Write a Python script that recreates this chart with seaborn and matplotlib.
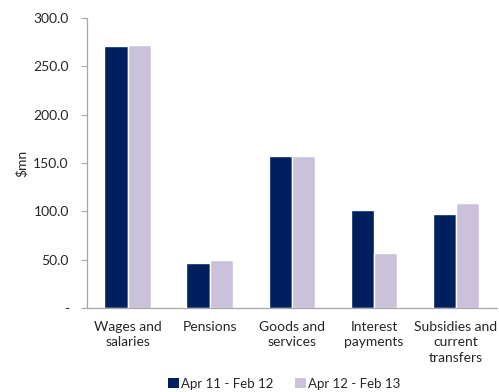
import matplotlib
matplotlib.use("Agg")
import matplotlib.pyplot as plt
import seaborn as sns
import pandas as pd
import numpy as np
from matplotlib.patches import Patch

categories = ["Wages and\nsalaries", "Pensions", "Goods and\nservices",
              "Interest\npayments", "Subsidies and\ncurrent\ntransfers"]
series_names = ["Apr 11 - Feb 12", "Apr 12 - Feb 13"]
values_2011 = [271.3, 46.9, 157.0, 101.4, 97.2]
values_2012 = [272.5, 49.7, 157.8, 57.2, 108.6]
y_ticks = [0, 50, 100, 150, 200, 250, 300]
y_tick_labels = ["-", "50.0", "100.0", "150.0", "200.0", "250.0", "300.0"]

colors = ["#001F5F", "#CCC1DA"]

df = pd.DataFrame({
    "category": categories * 2,
    "series": [series_names[0]] * 5 + [series_names[1]] * 5,
    "value": values_2011 + values_2012,
})

sns.set_style("white")
plt.rcParams["font.family"] = ["Lato", "DejaVu Sans"]

fig = plt.figure(figsize=(4.99, 3.92), dpi=100)
ax = fig.add_axes([0.174, 0.214, 0.822, 0.74])

sns.barplot(data=df, x="category", y="value", hue="series", palette=colors,
            order=categories, hue_order=series_names, width=0.57,
            saturation=1, ax=ax, legend=False, errorbar=None)

ax.set_ylim(0, 300)
ax.set_xlim(-0.5, len(categories) - 0.5)
ax.set_yticks(y_ticks)
ax.set_yticklabels(y_tick_labels, fontsize=10)
ax.set_ylabel("$mn", fontsize=10, labelpad=4)
ax.set_xlabel("")
ax.set_xticks(range(len(categories)))
ax.set_xticklabels(categories, fontsize=10, linespacing=1.35)
ax.tick_params(axis="x", which="major", length=0, pad=9)
ax.set_xticks(np.arange(-0.5, len(categories)), minor=True)
ax.tick_params(axis="x", which="minor", length=4, color="#A6A6A6", width=0.8)
ax.tick_params(axis="y", length=4, color="#A6A6A6", width=0.8, left=True, pad=9)

for s in ["top", "right"]:
    ax.spines[s].set_visible(False)
for s in ["left", "bottom"]:
    ax.spines[s].set_color("#A6A6A6")
    ax.spines[s].set_linewidth(0.9)

handles = [Patch(facecolor=c, edgecolor="none") for c in colors]
fig.legend(handles, series_names, loc="lower center", ncol=2,
           bbox_to_anchor=(0.57, -0.025), frameon=False, fontsize=9.5,
           handlelength=0.8, handleheight=0.8, handletextpad=0.2,
           columnspacing=1.6)

fig.savefig("out.png", dpi=100)
